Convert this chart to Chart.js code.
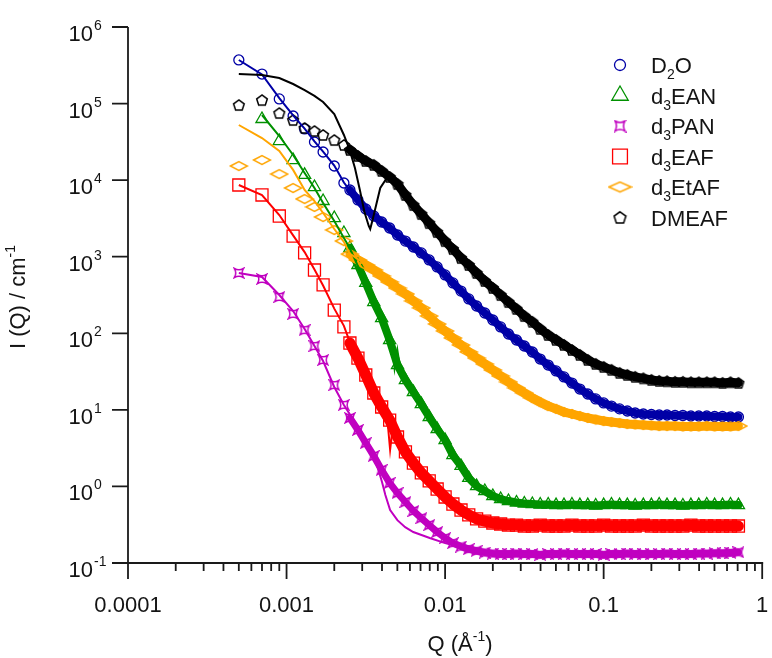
<!DOCTYPE html>
<html>
<head>
<meta charset="utf-8">
<script src="https://cdn.jsdelivr.net/npm/chart.js@4.4.1/dist/chart.umd.min.js"></script>
<style>
  html, body { margin: 0; padding: 0; background: #fff; }
  #sansChart { display: block; }
</style>
</head>
<body>
<canvas id="sansChart" width="772" height="658"></canvas>
<script>
// Q grids (1/Å): coarse low-Q points, then the dense SANS range
const qLow = [0.0005, 0.0007, 0.0009, 0.0011, 0.0013, 0.0015, 0.0017, 0.0020, 0.0023];
const qHigh = [0.00251, 0.00282, 0.00316, 0.00355, 0.00398, 0.00447, 0.00501, 0.00562, 0.00631, 0.00708,
  0.00794, 0.00891, 0.0100, 0.0112, 0.0126, 0.0141, 0.0158, 0.0178, 0.0200, 0.0224,
  0.0251, 0.0282, 0.0316, 0.0355, 0.0398, 0.0447, 0.0501, 0.0562, 0.0631, 0.0708,
  0.0794, 0.0891, 0.100, 0.112, 0.126, 0.141, 0.158, 0.178, 0.200, 0.224,
  0.251, 0.282, 0.316, 0.355, 0.398, 0.447, 0.501, 0.562, 0.631, 0.708];

// measured intensities I(Q) in 1/cm
const d2oLow = [371000, 243000, 115000, 68800, 46600, 31500, 23300, 15300, 9180];
const d2oHigh = [7430, 5510, 4200, 3400, 2840, 2370, 1920, 1600, 1340, 1120,
  907, 735, 578, 455, 356, 281, 227, 184, 149, 121,
  97.9, 81.7, 68.2, 57.0, 46.1, 38.5, 32.2, 26.9, 22.4, 18.7,
  16.1, 13.9, 12.3, 11.2, 10.3, 9.66, 9.10, 8.83, 8.70, 8.57,
  8.57, 8.44, 8.44, 8.31, 8.31, 8.31, 8.19, 8.19, 8.07, 8.07];

const eanLow = [null, 62900, 32400, 18300, 11700, 8130, 5340, 3200, 2040];
const eanHigh = [1300, 780, 454, 256, 158, 81.7, 38.5, 24.5, 17.1, 11.9,
  8.07, 5.62, 4.04, 2.57, 1.85, 1.29, 1.01, 0.871, 0.750, 0.685,
  0.645, 0.617, 0.598, 0.589, 0.580, 0.580, 0.571, 0.571, 0.580, 0.571,
  0.571, 0.563, 0.571, 0.580, 0.571, 0.571, 0.563, 0.571, 0.571, 0.580,
  0.571, 0.571, 0.563, 0.571, 0.571, 0.580, 0.571, 0.571, 0.580, 0.571];

const panLow = [613, 512, 298, 179, 110, 68.2, 44.8, 21.1, 11.6];
const panHigh = [7.83, 5.46, 3.69, 2.50, 1.64, 1.11, 0.820, 0.625, 0.478, 0.386,
  0.313, 0.254, 0.212, 0.182, 0.164, 0.152, 0.144, 0.137, 0.133, 0.131,
  0.131, 0.133, 0.131, 0.131, 0.128, 0.131, 0.131, 0.133, 0.131, 0.131,
  0.131, 0.131, 0.128, 0.131, 0.131, 0.133, 0.131, 0.131, 0.131, 0.131,
  0.133, 0.131, 0.131, 0.131, 0.133, 0.133, 0.134, 0.134, 0.136, 0.138];

const eafLow = [8640, 6400, 3400, 1860, 1120, 670, 428, 201, 121];
const eafHigh = [74.6, 47.5, 28.5, 16.6, 10.9, 7.36, 4.42, 2.82, 2.02, 1.50,
  1.18, 0.925, 0.728, 0.589, 0.492, 0.424, 0.376, 0.353, 0.333, 0.323,
  0.313, 0.313, 0.304, 0.304, 0.313, 0.304, 0.304, 0.304, 0.313, 0.304,
  0.304, 0.304, 0.313, 0.304, 0.304, 0.304, 0.304, 0.313, 0.304, 0.304,
  0.304, 0.304, 0.304, 0.313, 0.304, 0.304, 0.304, 0.304, 0.304, 0.304];

const etafLow = [15300, 18300, 12000, 7890, 5670, 4460, 3300, 2230, 1600];
const etafHigh = [1080, 906, 780, 670, 560, 468, 390, 326, 264, 214,
  168, 132, 107, 86.7, 70.3, 57.0, 47.5, 39.7, 33.1, 27.7,
  23.1, 19.3, 16.6, 14.3, 12.6, 11.2, 10.3, 9.37, 8.83, 8.31,
  7.83, 7.48, 7.15, 6.94, 6.73, 6.53, 6.44, 6.34, 6.25, 6.15,
  6.15, 6.15, 6.07, 6.07, 6.07, 6.15, 6.07, 6.07, 6.07, 6.15];

const dmeafLow = [95700, 111000, 75300, 61000, 48000, 43800, 38900, 33400, 28800];
const dmeafHigh = [24800, 20700, 17800, 15800, 13200, 11000, 8900, 6400, 4730, 3610,
  2750, 2100, 1600, 1260, 962, 780, 613, 482, 391, 316,
  256, 208, 168, 141, 114, 95, 82, 70.5, 60.6, 52.2,
  44.9, 39.8, 36.4, 33.3, 30.4, 28.6, 27.0, 25.8, 24.6, 23.9,
  23.6, 23.2, 23.2, 22.9, 22.9, 22.9, 22.9, 22.5, 22.9, 22.5];

// model fits
const d2oFitQ = [0.0005, 0.0007, 0.0009, 0.0011, 0.0013, 0.0015, 0.0017, 0.0020, 0.0023, 0.0025, 0.0032, 0.004, 0.005, 0.0063, 0.008, 0.01, 0.0126, 0.0158, 0.02, 0.025, 0.0316, 0.04, 0.05, 0.063, 0.08, 0.1, 0.126, 0.158, 0.2, 0.25, 0.32, 0.4, 0.5, 0.63, 0.72];
const d2oFitI = [371000, 240000, 118000, 70000, 47000, 32000, 23500, 15500, 9300, 7400, 4200, 2800, 1900, 1340, 910, 578, 357, 227, 149, 98, 68, 46, 32, 22.4, 16.1, 12.3, 10.3, 9.1, 8.7, 8.57, 8.44, 8.31, 8.19, 8.1, 8.07];

const eanFitQ = [0.0007, 0.0009, 0.0011, 0.0013, 0.0015, 0.0017, 0.0020, 0.0023, 0.0025, 0.0028, 0.0032, 0.0036, 0.004, 0.0043, 0.0046, 0.0048, 0.0050, 0.0053, 0.0056, 0.0063, 0.008, 0.01, 0.0126, 0.0158, 0.02, 0.025, 0.0316, 0.05, 0.1, 0.2, 0.4, 0.72];
const eanFitI = [70900, 37700, 21300, 12400, 7890, 5030, 2930, 1750, 1300, 780, 454, 256, 160, 110, 82, 35, 60, 28, 24.5, 17.1, 8.07, 4.04, 1.85, 1.01, 0.75, 0.645, 0.598, 0.58, 0.575, 0.575, 0.575, 0.575];

const panFitQ = [0.0005, 0.0007, 0.0009, 0.0011, 0.0013, 0.0015, 0.0017, 0.0020, 0.0023, 0.0025, 0.0028, 0.0032, 0.0035, 0.0038, 0.004, 0.0042, 0.0045, 0.005, 0.0056, 0.0063, 0.008, 0.01, 0.0126, 0.0158, 0.02, 0.03, 0.05, 0.1, 0.2, 0.4, 0.72];
const panFitI = [613, 543, 316, 195, 114, 68.2, 43.4, 19.9, 11.6, 8.83, 5.79, 4.04, 2.81, 1.64, 1.14, 0.771, 0.491, 0.363, 0.294, 0.254, 0.212, 0.182, 0.161, 0.148, 0.141, 0.133, 0.131, 0.131, 0.131, 0.132, 0.135];

const eafFitQ = [0.0005, 0.0007, 0.0009, 0.0011, 0.0013, 0.0015, 0.0017, 0.0020, 0.0023, 0.0025, 0.0028, 0.0032, 0.0036, 0.004, 0.0043, 0.0045, 0.0047, 0.005, 0.0056, 0.0063, 0.008, 0.01, 0.0126, 0.0158, 0.02, 0.025, 0.0316, 0.05, 0.1, 0.2, 0.4, 0.72];
const eafFitI = [8640, 6400, 3500, 1900, 1150, 680, 420, 210, 125, 78, 48, 28.5, 16.6, 10.9, 8.5, 3.0, 6.5, 4.4, 2.8, 2.0, 1.18, 0.728, 0.492, 0.376, 0.333, 0.313, 0.304, 0.304, 0.304, 0.304, 0.304, 0.304];

const etafFitQ = [0.0005, 0.0007, 0.0009, 0.0011, 0.0013, 0.0015, 0.0017, 0.0020, 0.0023, 0.0025, 0.0032, 0.004, 0.005, 0.0063, 0.008, 0.01, 0.0126, 0.0158, 0.02, 0.025, 0.0316, 0.04, 0.05, 0.063, 0.08, 0.1, 0.126, 0.158, 0.2, 0.25, 0.32, 0.4, 0.5, 0.63, 0.72];
const etafFitI = [52500, 35500, 24000, 13600, 7430, 5340, 3720, 2300, 1560, 1100, 780, 560, 390, 264, 168, 107, 70.3, 47.5, 33.1, 23.1, 16.6, 12.6, 10.3, 8.83, 7.83, 7.15, 6.73, 6.44, 6.25, 6.15, 6.15, 6.07, 6.07, 6.07, 6.1];

const dmeafFitQ = [0.0005, 0.0007, 0.0009, 0.0011, 0.0013, 0.0015, 0.0017, 0.0020, 0.0023, 0.0025, 0.0027, 0.0029, 0.0031, 0.0033, 0.00337, 0.0035, 0.0037, 0.0039, 0.0042, 0.0045, 0.0048, 0.0051, 0.0056, 0.0063, 0.008, 0.01, 0.015, 0.02, 0.03, 0.05, 0.07, 0.1, 0.15, 0.2, 0.3, 0.5, 0.72];
const dmeafFitI = [243000, 236000, 216000, 180000, 150000, 126000, 105000, 73100, 38900, 24800, 14400, 7430, 3840, 2520, 2300, 3110, 5030, 7890, 10000, 11000, 10700, 8380, 6200, 4740, 2700, 1600, 713, 391, 190, 82, 52, 36, 28, 24.6, 23.2, 22.9, 22.5];

// axis ticks
const xMajorTicks = [0.0001, 0.001, 0.01, 0.1, 1];
const xTickLabels = ['0.0001', '0.001', '0.01', '0.1', '1'];
const yMajorTicks = [0.1, 1, 10, 100, 1000, 10000, 100000, 1000000];
const yTickExponents = ['-1', '0', '1', '2', '3', '4', '5', '6'];

const FONT = '"Liberation Sans", Arial, sans-serif';
const TEXT = '#141414';

// outline markers not built into Chart.js
function markerCanvas(w, h, color, path) {
  const c = document.createElement('canvas');
  c.width = w; c.height = h;
  const g = c.getContext('2d');
  g.strokeStyle = color;
  g.lineWidth = 1.5;
  g.beginPath();
  path(g, w, h);
  g.closePath();
  g.stroke();
  return c;
}

function pentagonPath(r) {
  return (g, w, h) => {
    for (let k = 0; k < 5; k++) {
      const a = -Math.PI / 2 + k * 2 * Math.PI / 5;
      const px = w / 2 + r * Math.cos(a), py = h / 2 + 0.5 + r * Math.sin(a);
      k ? g.lineTo(px, py) : g.moveTo(px, py);
    }
  };
}
function diamondPath(g, w, h) {
  g.moveTo(1.5, h / 2); g.lineTo(w / 2, 1.5); g.lineTo(w - 1.5, h / 2); g.lineTo(w / 2, h - 1.5);
}
function pinchedPath(g, w, h) {
  const a = 1.5, b = w - 1.5, m = w / 2, d = w * 0.22;
  g.moveTo(a, a);
  g.quadraticCurveTo(m, a + d, b, a);
  g.quadraticCurveTo(b - d, m, b, b);
  g.quadraticCurveTo(m, b - d, a, b);
  g.quadraticCurveTo(a + d, m, a, a);
}

const pentagon = markerCanvas(14, 14, '#000', pentagonPath(5.6));
const flatDiamond = markerCanvas(20, 12, '#ffa500', diamondPath);
const pinchedSquare = markerCanvas(12, 12, '#c000c0', pinchedPath);
// slightly larger symbols for the key
const keyPentagon = markerCanvas(15, 15, '#000', pentagonPath(6.2));
const keyDiamond = markerCanvas(25, 13, '#ffa500', diamondPath);
const keyPinched = markerCanvas(13, 13, '#c000c0', pinchedPath);

const series = [
  { name: [['D'], ['2', 'sub'], ['O']], color: '#0000a6', style: 'circle', radius: 5, band: 8,
    key: 'circle', keyRadius: 5.5,
    low: d2oLow, high: d2oHigh, fitQ: d2oFitQ, fitI: d2oFitI },
  { name: [['d'], ['3', 'sub'], ['EAN']], color: '#009100', style: 'triangle', radius: 7, band: 8,
    key: 'triangle', keyRadius: 9.5,
    low: eanLow, high: eanHigh, fitQ: eanFitQ, fitI: eanFitI },
  { name: [['d'], ['3', 'sub'], ['PAN']], color: '#c000c0', style: pinchedSquare, radius: 5, band: 7,
    key: keyPinched, keyRadius: 6,
    low: panLow, high: panHigh, fitQ: panFitQ, fitI: panFitI },
  { name: [['d'], ['3', 'sub'], ['EAF']], color: '#ff0000', style: 'rect', radius: 8.5, band: 11,
    key: 'rect', keyRadius: 10.5,
    low: eafLow, high: eafHigh, fitQ: eafFitQ, fitI: eafFitI },
  { name: [['d'], ['3', 'sub'], ['EtAF']], color: '#ffa500', style: flatDiamond, radius: 6, band: 9,
    key: keyDiamond, keyRadius: 6,
    low: etafLow, high: etafHigh, fitQ: etafFitQ, fitI: etafFitI },
  { name: [['DMEAF']], color: '#000000', style: pentagon, radius: 6, band: 9,
    key: keyPentagon, keyRadius: 6,
    low: dmeafLow, high: dmeafHigh, fitQ: dmeafFitQ, fitI: dmeafFitI }
];

function toPoints(qs, vals) {
  const pts = [];
  qs.forEach((q, i) => {
    if (vals[i] != null) pts.push({ x: q, y: vals[i] });
  });
  return pts;
}

const datasets = [];
series.forEach((s, n) => {
  // dense data drawn as a solid band under the markers
  datasets.push({
    label: 'band' + n, data: toPoints(qHigh, s.high), showLine: true,
    borderColor: s.color, borderWidth: s.band, pointRadius: 0,
    borderJoinStyle: 'round', borderCapStyle: 'round', order: 30 - n
  });
  datasets.push({
    label: 'data' + n, data: toPoints(qLow.concat(qHigh), s.low.concat(s.high)),
    showLine: false, pointStyle: s.style, pointRadius: s.radius,
    pointBorderColor: s.color, pointBackgroundColor: 'rgba(0,0,0,0)', pointBorderWidth: 1.3,
    order: 20 - n
  });
  datasets.push({
    label: 'fit' + n, data: toPoints(s.fitQ, s.fitI), showLine: true,
    borderColor: s.color, borderWidth: 2, pointRadius: 0, order: 10 - n
  });
});

// text with sub/superscript pieces
function drawRich(ctx, parts, x, y, align, size, small) {
  const fonts = parts.map(p => (p[1] ? small : size) + 'px ' + FONT);
  const widths = parts.map((p, i) => { ctx.font = fonts[i]; return ctx.measureText(p[0]).width; });
  const total = widths.reduce((a, b) => a + b, 0);
  let cx = align === 'center' ? x - total / 2 : align === 'right' ? x - total : x;
  ctx.textAlign = 'left';
  ctx.textBaseline = 'alphabetic';
  parts.forEach((p, i) => {
    ctx.font = fonts[i];
    const dy = p[1] === 'sub' ? 6 : p[1] === 'sup' ? -10 : 0;
    ctx.fillText(p[0], cx, y + dy);
    cx += widths[i];
  });
}

const axesPlugin = {
  id: 'axesPlugin',
  afterDraw(chart) {
    const { ctx } = chart;
    const xs = chart.scales.x, ys = chart.scales.y;
    const left = xs.getPixelForValue(xs.min), right = xs.getPixelForValue(xs.max);
    const top = ys.getPixelForValue(ys.max), bottom = ys.getPixelForValue(ys.min);
    ctx.save();
    ctx.strokeStyle = '#1a1a1a';
    ctx.lineWidth = 1.8;
    ctx.beginPath();
    ctx.moveTo(left, top); ctx.lineTo(left, bottom);
    ctx.moveTo(left, bottom); ctx.lineTo(right + 1, bottom);
    // y ticks, decades only
    yMajorTicks.forEach(v => {
      const py = ys.getPixelForValue(v);
      ctx.moveTo(left - 16, py); ctx.lineTo(left, py);
    });
    // x ticks with minor ones between decades
    xMajorTicks.forEach((v, i) => {
      const px = xs.getPixelForValue(v);
      ctx.moveTo(px, bottom); ctx.lineTo(px, bottom + 16);
      if (i < xMajorTicks.length - 1) {
        for (let m = 2; m <= 9; m++) {
          const pm = xs.getPixelForValue(v * m);
          ctx.moveTo(pm, bottom); ctx.lineTo(pm, bottom + 8);
        }
      }
    });
    ctx.stroke();

    ctx.fillStyle = TEXT;
    yMajorTicks.forEach((v, i) => {
      const py = ys.getPixelForValue(v);
      ctx.font = '22px ' + FONT;
      ctx.textAlign = 'right';
      ctx.textBaseline = 'alphabetic';
      ctx.fillText('10', 93, py + 14);
      ctx.textAlign = 'left';
      ctx.font = '14px ' + FONT;
      ctx.fillText(yTickExponents[i], 94, py + 3);
    });
    ctx.font = '22px ' + FONT;
    ctx.textAlign = 'center';
    xMajorTicks.forEach((v, i) => {
      ctx.fillText(xTickLabels[i], xs.getPixelForValue(v), 612);
    });

    // axis titles
    drawRich(ctx, [['Q ('], ['Å'], ['-1', 'sup'], [')']], 460, 651, 'center', 22, 14);
    ctx.translate(25, 297);
    ctx.rotate(-Math.PI / 2);
    drawRich(ctx, [['I (Q) / cm'], ['-1', 'sup']], 0, 0, 'center', 22, 14);
    ctx.restore();
  }
};

const legendPlugin = {
  id: 'legendPlugin',
  afterDraw(chart) {
    const { ctx } = chart;
    ctx.save();
    series.forEach((s, i) => {
      const cy = 65 + i * 30.5;
      ctx.strokeStyle = s.color;
      ctx.fillStyle = 'rgba(0,0,0,0)';
      ctx.lineWidth = 1.3;
      Chart.helpers.drawPoint(ctx, { pointStyle: s.key, radius: s.keyRadius, rotation: 0, borderWidth: 1.3 }, 620, cy);
      ctx.fillStyle = TEXT;
      drawRich(ctx, s.name, 651, cy + 8, 'left', 22, 14);
    });
    ctx.restore();
  }
};

new Chart(document.getElementById('sansChart'), {
  type: 'scatter',
  data: { datasets },
  options: {
    responsive: false,
    animation: false,
    devicePixelRatio: 1,
    layout: { padding: { left: 128, top: 27, right: 6, bottom: 95 } },
    scales: {
      x: { type: 'logarithmic', min: 0.0001, max: 1, display: false },
      y: { type: 'logarithmic', min: 0.1, max: 1000000, display: false }
    },
    plugins: { legend: { display: false }, tooltip: { enabled: false } }
  },
  plugins: [axesPlugin, legendPlugin]
});
</script>
</body>
</html>
